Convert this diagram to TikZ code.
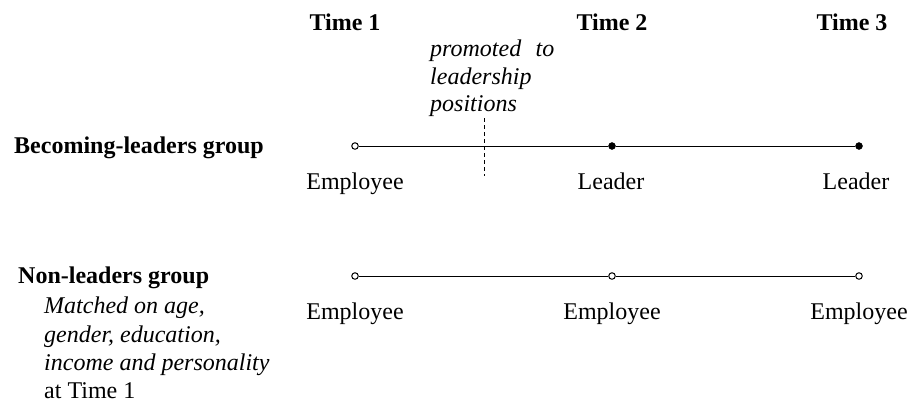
\documentclass[tikz,border=0pt]{standalone}
\usepackage{fontspec}
\setmainfont{Liberation Serif}
\begin{document}
\begin{tikzpicture}[x=1pt,y=-1pt,
  txt/.style={inner sep=0pt,anchor=base,font=\fontsize{24}{28}\selectfont},
  hdr/.style={inner sep=0pt,anchor=base,font=\fontsize{24}{28}\selectfont\bfseries},
  itl/.style={inner sep=0pt,anchor=base west,font=\fontsize{24}{28}\selectfont\itshape},
  opendot/.style={circle,draw,fill=white,line width=1pt,inner sep=0pt,minimum size=6.5pt},
  fulldot/.style={circle,draw,fill=black,inner sep=0pt,minimum size=7pt},
  tline/.style={line width=1pt}]
\useasboundingbox (0,0) rectangle (913,405);
% headers
\node[hdr] (t1) at (345,30) {Time 1};
\node[hdr] (t2) at (612,30) {Time 2};
\node[hdr] (t3) at (852,30) {Time 3};
% group labels
\node[hdr,anchor=base west] (g1) at (14,153) {Becoming-leaders group};
\node[hdr,anchor=base west] (g2) at (18,283) {Non-leaders group};
\node[itl] (m1) at (44,313) {Matched on age,};
\node[itl] (m2) at (44,342) {gender, education,};
\node[itl] (m3) at (44,370) {income and personality};
\node[txt,anchor=base west] (m4) at (44,398) {at Time 1};
% promoted
\node[itl] (p1) at (430,56) {promoted\hspace{0.6em}to};
\node[itl] (p2) at (430,84) {leadership};
\node[itl] (p3) at (430,111) {positions};
\coordinate (d1) at (484,118);
\coordinate (d2) at (484,176);
\draw[line width=0.8pt,dash pattern=on 4pt off 3pt] (d1) -- (d2);
% line 1
\node[opendot] (a1) at (355,146) {};
\node[fulldot] (a2) at (612,146) {};
\node[fulldot] (a3) at (859,146) {};
\draw[tline] (a1) -- (a2) -- (a3);
\node[txt] (la1) at (355,189) {Employee};
\node[txt] (la2) at (611,189) {Leader};
\node[txt] (la3) at (856,189) {Leader};
% line 2
\node[opendot] (b1) at (355,276) {};
\node[opendot] (b2) at (612,276) {};
\node[opendot] (b3) at (859,276) {};
\draw[tline] (b1) -- (b2) -- (b3);
\node[txt] (lb1) at (355,319) {Employee};
\node[txt] (lb2) at (612,319) {Employee};
\node[txt] (lb3) at (859,319) {Employee};
\end{tikzpicture}
\end{document}
